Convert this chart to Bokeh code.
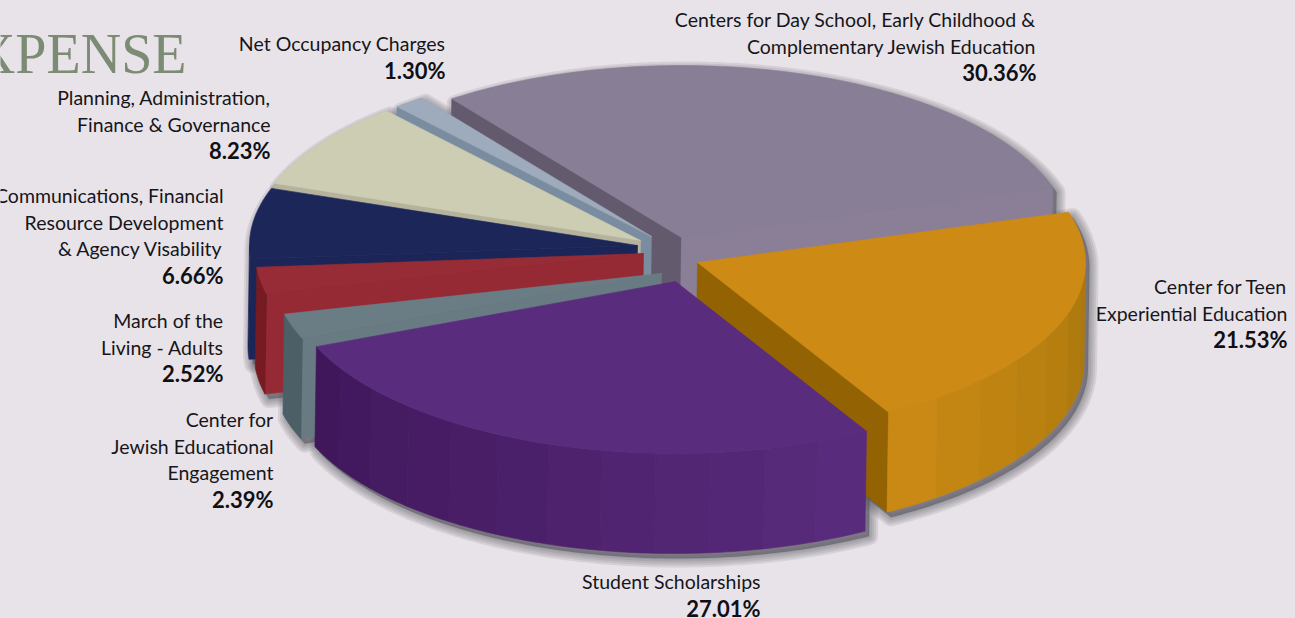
import math
from bokeh.plotting import figure
from bokeh.models import ColumnDataSource, Range1d
from bokeh.core.properties import value
from bokeh.embed import file_html
from bokeh.resources import INLINE

# ---------- data ----------
slices = ["Center for Teen Experiential Education", "Student Scholarships",
          "Center for Jewish Educational Engagement", "March of the Living - Adults",
          "Communications, Financial Resource Development & Agency Visability",
          "Planning, Administration, Finance & Governance",
          "Net Occupancy Charges",
          "Centers for Day School, Early Childhood & Complementary Jewish Education"]
shares = [21.53, 27.01, 2.39, 2.52, 6.66, 8.23, 1.30, 30.36]
label_lines = [["Center for Teen", "Experiential Education"],
               ["Student Scholarships"],
               ["Center for", "Jewish Educational", "Engagement"],
               ["March of the", "Living - Adults"],
               ["Communications, Financial", "Resource Development", "& Agency Visability"],
               ["Planning, Administration,", "Finance & Governance"],
               ["Net Occupancy Charges"],
               ["Centers for Day School, Early Childhood &", "Complementary Jewish Education"]]
title_text = "XPENSE"

# ---------- style / layout ----------
BG = "#e8e3e9"
face_col = ["#cd8a14", "#5a2c7e", "#6a7d85", "#982c36", "#1c2659", "#cdcdb3", "#9dabbc", "#887e96"]
cut_col = ["#936203", "#5a2c7e", "#687b83", "#952a34", "#1b2558", "#b5b39c", "#7a8c9f", "#635a6e"]
end_cut_col = ["#936203", "#5a2c7e", "#687b83", "#952a34", "#1b2558", "#b5b39c", "#7a8c9f", "#8a7f96"]
wall_low = ["#a9770c", "#5a2c7e", "#4c5f66", "#751b21", "#1b2558", "#b5b39c", "#7a8c9f", "#635a6e"]
wall_high = ["#cb8a15", "#3f1659", "#4c5f66", "#751b21", "#1b2558", "#b5b39c", "#7a8c9f", "#635a6e"]
explode_dx = [32, 10, -4, -22, -28, -25, -14, 16]
explode_dy = [7, 26, 18, -2, -10, -15, -19, -18]
draw_order = [7, 6, 5, 4, 3, 2, 0, 1]
CX, CY, RX, RY, DEPTH, DEPTH_DX, START = 665, 255, 388, 172, 100, -1.5, -17.0

label_right = [1287, 760, 273, 223, 223, 270, 445, 1036]
label_top = [286, 581, 419, 320, 195, 97, 43, 19]
LINE_STEP = 26.6

# ---------- geometry ----------
def hexrgb(c):
    return [int(c[i:i + 2], 16) for i in (1, 3, 5)]

def mix(a, b, t):
    ca, cb = hexrgb(a), hexrgb(b)
    return "#%02x%02x%02x" % tuple(round(x + (y - x) * t) for x, y in zip(ca, cb))

def rim(i, deg):
    r = math.radians(deg)
    return (CX + explode_dx[i] + RX * math.cos(r), CY + explode_dy[i] + RY * math.sin(r))

def down(pt):
    return (pt[0] + DEPTH_DX, pt[1] + DEPTH)

def hull(points):
    pts = sorted(set(points))
    def half(seq):
        out = []
        for q in seq:
            while len(out) > 1 and ((out[-1][0] - out[-2][0]) * (q[1] - out[-2][1]) -
                                    (out[-1][1] - out[-2][1]) * (q[0] - out[-2][0])) <= 0:
                out.pop()
            out.append(q)
        return out[:-1]
    return half(pts) + half(pts[::-1])

spans, a = [], START
for s in shares:
    spans.append((a, a + s * 3.6))
    a += s * 3.6

xs, ys, cols, sx, sy = [], [], [], [], []
def add(poly, col):
    xs.append([q[0] for q in poly])
    ys.append([q[1] for q in poly])
    cols.append(col)

for i in draw_order:
    a0, a1 = spans[i]
    apex = (CX + explode_dx[i], CY + explode_dy[i])
    n = max(3, int(a1 - a0))
    arc = [rim(i, a0 + (a1 - a0) * k / n) for k in range(n + 1)]
    h = hull([apex, down(apex)] + arc + [down(q) for q in arc])
    sx.append([q[0] for q in h])
    sy.append([q[1] for q in h])
    # cut faces seen by the viewer
    if math.cos(math.radians(a0)) < 0:
        p0 = rim(i, a0)
        add([apex, p0, down(p0), down(apex)], cut_col[i])
    if math.cos(math.radians(a1)) > 0:
        p1 = rim(i, a1)
        add([apex, p1, down(p1), down(apex)], end_cut_col[i])
    # outer wall, in shaded bands
    lo, hi = max(a0, 0.0), min(a1, 180.0)
    if hi > lo:
        bands = max(1, int((hi - lo) / 8))
        for b in range(bands):
            b0 = lo + (hi - lo) * b / bands
            b1 = lo + (hi - lo) * (b + 1) / bands
            m = max(2, int(b1 - b0) + 1)
            top = [rim(i, b0 + (b1 - b0) * k / m) for k in range(m + 1)]
            add(top + [down(q) for q in top[::-1]], mix(wall_low[i], wall_high[i], (b + 0.5) / bands))
    add([apex] + arc, face_col[i])

# ---------- figure ----------
p = figure(width=1295, height=618, output_backend="svg", toolbar_location=None,
           x_range=Range1d(0, 1295), y_range=Range1d(618, 0),
           min_border=0, background_fill_color=BG, border_fill_color=BG)
p.axis.visible = False
p.grid.visible = False
p.outline_line_color = None

# soft shadow on the background
for w in (18, 14, 10, 6, 2):
    p.patches([[x + 4 for x in r] for r in sx], [[y + 5 for y in r] for r in sy],
              fill_color="#55525e", fill_alpha=0.0, line_color="#55525e", line_alpha=0.13,
              line_width=w, line_join="round")
p.patches([[x + 4 for x in r] for r in sx], [[y + 5 for y in r] for r in sy],
          fill_color="#55525e", fill_alpha=0.6, line_color=None)

p.patches("xs", "ys", source=ColumnDataSource(dict(xs=xs, ys=ys, c=cols)),
          fill_color="c", line_color="c", line_width=0.6, line_join="round")

# labels
tx, ty, tt = [], [], []
bx, by, bt = [], [], []
for lines, share, rx, top in zip(label_lines, shares, label_right, label_top):
    for k, line in enumerate(lines):
        tx.append(rx); ty.append(top + k * LINE_STEP); tt.append(line)
    bx.append(rx); by.append(top + len(lines) * LINE_STEP); bt.append(f"{share:.2f}%")

p.text(tx, ty, text=tt, text_font=value("Lato"), text_font_size="19.5px", text_color="#16161a",
       text_align="right", text_baseline="middle")
p.text(bx, by, text=bt, text_font=value("Lato"), text_font_style="bold", text_font_size="22px",
       text_color="#101014", text_align="right", text_baseline="middle")
p.text([186], [53], text=[title_text], text_font=value("Liberation Serif"), text_font_size="56px",
       text_color="#7c8b74", text_align="right", text_baseline="alphabetic")

html = file_html(p, INLINE)
html = html.replace("</head>", f"<style>html,body{{margin:0;padding:0;background:{BG};overflow:hidden}}</style></head>", 1)
open("out.html", "w").write(html)
